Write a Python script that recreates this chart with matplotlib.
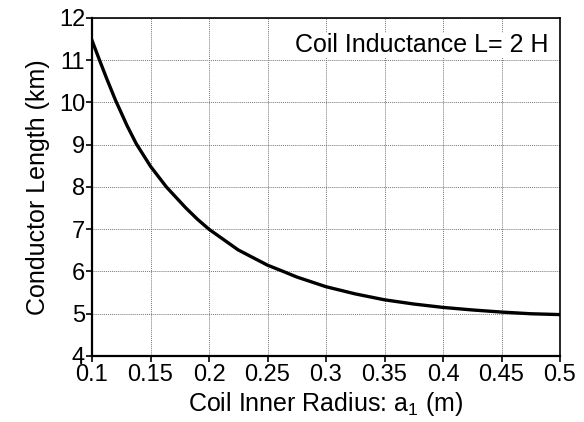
import matplotlib
matplotlib.use("Agg")
import matplotlib.pyplot as plt

plt.rcParams['font.family'] = ['Liberation Sans', 'DejaVu Sans']
plt.rcParams['mathtext.fontset'] = 'custom'
plt.rcParams['mathtext.rm'] = 'Liberation Sans'
plt.rcParams['mathtext.it'] = 'Liberation Sans'

radius = [0.1, 0.1066, 0.1125, 0.12, 0.13, 0.1379, 0.15, 0.1636, 0.18, 0.19, 0.2, 0.225,
          0.25, 0.2636, 0.275, 0.3, 0.325, 0.35, 0.375, 0.4, 0.425, 0.45, 0.475, 0.5]
length = [11.47, 10.99, 10.57, 10.06, 9.45, 9.02, 8.49, 8.0, 7.51, 7.24, 7.0, 6.51,
          6.15, 6.0, 5.87, 5.64, 5.47, 5.33, 5.23, 5.15, 5.09, 5.04, 5.0, 4.98]

xticks = [0.1, 0.15, 0.2, 0.25, 0.3, 0.35, 0.4, 0.45, 0.5]
xticklabels = ['0.1', '0.15', '0.2', '0.25', '0.3', '0.35', '0.4', '0.45', '0.5']
yticks = [4, 5, 6, 7, 8, 9, 10, 11, 12]

fig = plt.figure(figsize=(5.84, 4.22), dpi=100)
ax = fig.add_axes([92/584, 66/422, 468/584, 338/422])
ax.plot(radius, length, color='black', lw=2.4, solid_joinstyle='round')
ax.set_xlim(0.1, 0.5)
ax.set_ylim(4, 12)
ax.set_xticks(xticks)
ax.set_xticklabels(xticklabels)
ax.set_yticks(yticks)
ax.grid(True, color='#777777', linestyle=(0, (1, 1)), lw=0.7)
ax.tick_params(axis='both', labelsize=17, direction='out', length=4, width=1.2, colors='black', pad=1)
ax.tick_params(axis='x', pad=2)
for s in ax.spines.values():
    s.set_color('black')
    s.set_linewidth(1.2)
ax.spines['left'].set_linewidth(1.6)
ax.spines['bottom'].set_linewidth(1.6)
ax.set_xlabel(r'Coil Inner Radius: a$_{1}$ (m)', fontsize=18, labelpad=3)
ax.set_ylabel('Conductor Length (km)', fontsize=18, labelpad=6)
ax.text(0.975, 0.955, 'Coil Inductance L= 2 H', transform=ax.transAxes, ha='right', va='top', fontsize=18,
        bbox=dict(facecolor='white', edgecolor='none', pad=0))
fig.savefig('out.png', dpi=100)
